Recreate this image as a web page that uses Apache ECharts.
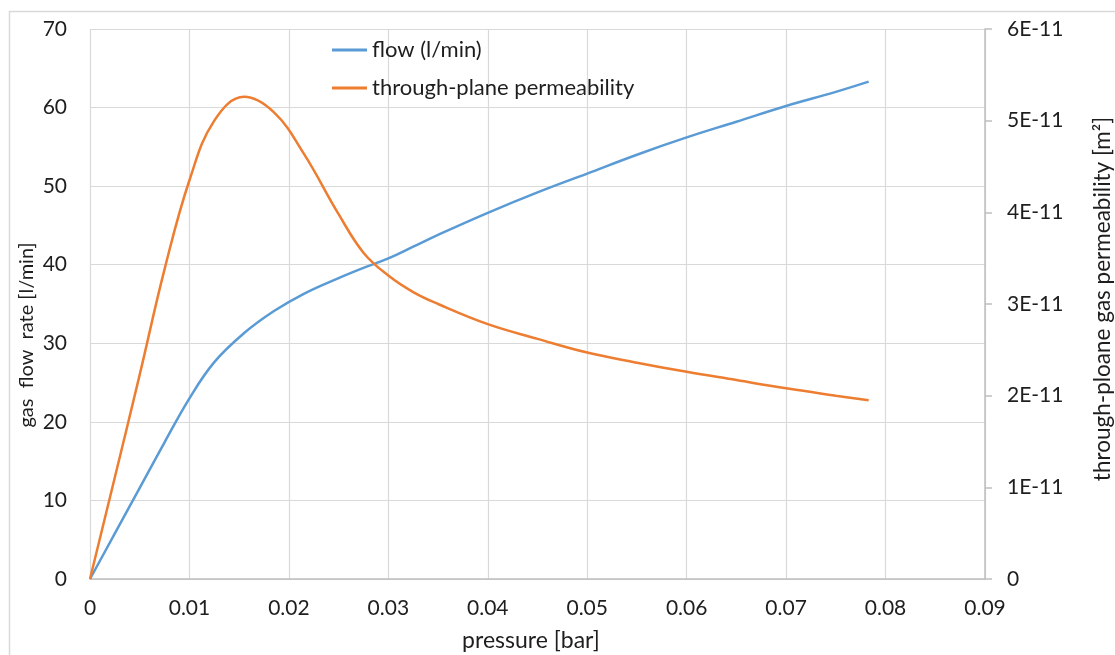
<!DOCTYPE html>
<html>
<head>
<meta charset="utf-8">
<script src="https://cdn.jsdelivr.net/npm/echarts@6/dist/echarts.min.js"></script>
<style>
html,body{margin:0;padding:0;background:#fff;}
#chart{width:1115px;height:655px;}
</style>
</head>
<body>
<div id="chart"></div>
<script>
// pressure [bar]
const pressure = [0, 0.0025, 0.005, 0.0075, 0.010, 0.0125, 0.0155, 0.0185, 0.0215, 0.025, 0.0275, 0.030, 0.0325, 0.035, 0.040, 0.045, 0.050, 0.055, 0.060, 0.065, 0.070, 0.075, 0.0783];
// gas flow rate [l/min]
const flow = [0, 5.8, 11.6, 17.4, 23.0, 27.6, 31.3, 34.1, 36.3, 38.3, 39.6, 40.8, 42.3, 43.8, 46.6, 49.2, 51.6, 54.0, 56.2, 58.2, 60.2, 62.0, 63.3];
// through-plane permeability [m^2]
const permeability = [0, 1.11e-11, 2.23e-11, 3.38e-11, 4.35e-11, 5.0e-11, 5.26e-11, 5.09e-11, 4.64e-11, 3.98e-11, 3.56e-11, 3.31e-11, 3.13e-11, 3.0e-11, 2.78e-11, 2.62e-11, 2.47e-11, 2.36e-11, 2.26e-11, 2.17e-11, 2.08e-11, 2.0e-11, 1.95e-11];

const seriesNames = ['flow (l/min)', 'through-plane permeability'];
const xAxisName = 'pressure [bar]';
const leftAxisName = 'gas  flow  rate [l/min]';
const rightAxisName = 'through-ploane gas permeability [m²]';

const FONT = 'Lato';
const TXT = '#1e1e1e';

const chart = echarts.init(document.getElementById('chart'), null, {renderer: 'canvas'});
chart.setOption({
  backgroundColor: '#fff',
  animation: false,
  textStyle: {fontFamily: FONT, color: TXT},
  graphic: [
    {type: 'rect', left: 7, top: 9, shape: {x: 0, y: 0, width: 1120, height: 660}, style: {fill: 'none', stroke: '#d9d9d9', lineWidth: 1.5}, z: -10, silent: true},
    {type: 'text', x: 27, y: 335, rotation: Math.PI / 2, style: {text: leftAxisName, font: '20px ' + FONT, fill: TXT, align: 'center', verticalAlign: 'middle'}},
    {type: 'text', x: 1103, y: 299, rotation: Math.PI / 2, style: {text: rightAxisName, font: '22.5px ' + FONT, fill: TXT, align: 'center', verticalAlign: 'middle'}},
    {type: 'text', x: 531, y: 641, style: {text: xAxisName, font: '23px ' + FONT, fill: TXT, align: 'center', verticalAlign: 'middle'}}
  ],
  legend: {
    orient: 'vertical',
    left: 327,
    top: 34,
    itemWidth: 35,
    itemHeight: 3,
    itemGap: 16,
    icon: 'rect',
    textStyle: {fontFamily: FONT, fontSize: 22, color: TXT},
    data: seriesNames
  },
  grid: {left: 90, right: 130, top: 29, bottom: 76, containLabel: false},
  xAxis: {
    type: 'value',
    min: 0, max: 0.09, interval: 0.01,
    axisLine: {show: true, lineStyle: {color: '#bfbfbf', width: 1.5}},
    axisTick: {show: false},
    axisLabel: {fontFamily: FONT, fontSize: 21, color: TXT, margin: 19, formatter: v => String(+v.toFixed(2))},
    splitLine: {show: true, lineStyle: {color: '#d9d9d9', width: 1.2}}
  },
  yAxis: [
    {
      type: 'value',
      min: 0, max: 70, interval: 10,
      axisLine: {show: false},
      axisTick: {show: false},
      axisLabel: {fontFamily: FONT, fontSize: 21, color: TXT, margin: 23},
      splitLine: {show: true, lineStyle: {color: '#d9d9d9', width: 1.2}}
    },
    {
      type: 'value',
      position: 'right',
      min: 0, max: 6e-11, interval: 1e-11,
      axisLine: {show: true, lineStyle: {color: '#bfbfbf', width: 1.5}},
      axisTick: {show: true, length: 7, lineStyle: {color: '#bfbfbf', width: 1.5}},
      axisLabel: {fontFamily: FONT, fontSize: 21, color: TXT, margin: 22,
        formatter: v => { const n = Math.round(v * 1e11); return n === 0 ? '0' : n + 'E-11'; }},
      splitLine: {show: false}
    }
  ],
  series: [
    {
      name: seriesNames[0], type: 'line', yAxisIndex: 0, smooth: 0.4, symbol: 'none',
      lineStyle: {color: '#5B9BD5', width: 2.5}, itemStyle: {color: '#5B9BD5'},
      data: pressure.map((p, i) => [p, flow[i]])
    },
    {
      name: seriesNames[1], type: 'line', yAxisIndex: 1, smooth: 0.4, symbol: 'none',
      lineStyle: {color: '#ED7D31', width: 2.5}, itemStyle: {color: '#ED7D31'},
      data: pressure.map((p, i) => [p, permeability[i]])
    }
  ]
});
</script>
</body>
</html>
